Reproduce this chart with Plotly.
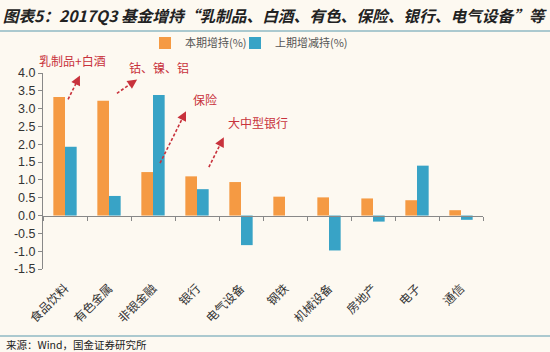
import math
import plotly.graph_objects as go

categories = ["食品饮料", "有色金属", "非银金融", "银行", "电气设备", "钢铁", "机械设备", "房地产", "电子", "通信"]
current = [3.33, 3.22, 1.22, 1.10, 0.94, 0.53, 0.51, 0.48, 0.43, 0.15]
previous = [1.93, 0.55, 3.38, 0.74, -0.83, 0.0, -0.98, -0.17, 1.40, -0.12]
series_names = ["本期增持(%)", "上期增减持(%)"]
ytick_vals = [-1.5, -1.0, -0.5, 0.0, 0.5, 1.0, 1.5, 2.0, 2.5, 3.0, 3.5, 4.0]
title_text = "图表5：2017Q3 基金增持“乳制品、白酒、有色、保险、银行、电气设备”等"
source_text = "来源：Wind，国金证券研究所"

# callouts: text, text pos (cat index, value), arrow tail, arrow head
callouts = [
    ("乳制品+白酒", (0.16, 4.36), (0.07, 3.26), (0.34, 3.93)),
    ("钴、镍、铝", (2.14, 4.16), (1.18, 3.43), (1.64, 3.82)),
    ("保险", (3.18, 3.26), (2.16, 1.47), (2.75, 2.93)),
    ("大中型银行", (4.39, 2.62), (3.27, 1.36), (3.61, 2.20)),
]

ORANGE = "#F59A43"
BLUE = "#38A3C6"
RED = "#C8323C"
BG = "#FDF9F1"
CJK = "Noto Sans CJK SC"

L, R, T, B = 43, 67, 73, 83
W, H = 550, 352
pw, ph = W - L - R, H - T - B
YMIN, YMAX = -1.5, 4.0
NCAT = len(categories)
HEAD_PX = 9


def px_x(px):
    return (px - L) / pw


def px_y(py):
    return (H - B - py) / ph


def cat_paper(i):
    return (i + 0.5) / NCAT


def val_paper(v):
    return (v - YMIN) / (YMAX - YMIN)


fig = go.Figure()
fig.add_trace(go.Bar(x=categories, y=current, name=series_names[0], marker_color=ORANGE,
                     marker_line_width=0, legend="legend"))
fig.add_trace(go.Bar(x=categories, y=previous, name=series_names[1], marker_color=BLUE,
                     marker_line_width=0, legend="legend2"))

shapes = []
annotations = []
for text, (tx, ty), (ax0, ay0), (hx, hy) in callouts:
    annotations.append(dict(x=cat_paper(tx), y=val_paper(ty), xref="paper", yref="paper", text=text,
                            xanchor="center", yanchor="middle",
                            showarrow=False, font=dict(family=CJK, size=12, color=RED)))
    sx, sy = cat_paper(ax0), val_paper(ay0)
    ex, ey = cat_paper(hx), val_paper(hy)
    dx_px = (ex - sx) * pw
    dy_px = (ey - sy) * ph
    length = math.hypot(dx_px, dy_px)
    ux, uy = dx_px / length, dy_px / length
    # dashed shaft, stopping under the arrowhead
    stop = length - HEAD_PX * 0.6
    shapes.append(dict(type="line", xref="paper", yref="paper", x0=sx, y0=sy,
                       x1=sx + ux * stop / pw, y1=sy + uy * stop / ph,
                       line=dict(color=RED, width=1.6, dash="3px,2px")))
    annotations.append(dict(x=ex, y=ey, xref="paper", yref="paper",
                            ax=-ux * HEAD_PX, ay=uy * HEAD_PX,
                            text="", showarrow=True, arrowhead=2, arrowsize=1.2,
                            arrowwidth=1.6, arrowcolor=RED, standoff=0, startstandoff=0))

# header / footer rules
shapes.append(dict(type="line", xref="paper", yref="paper", x0=px_x(0), x1=px_x(550),
                   y0=px_y(31), y1=px_y(31), line=dict(color="#5B9AAE", width=1.2)))
shapes.append(dict(type="line", xref="paper", yref="paper", x0=px_x(0), x1=px_x(550),
                   y0=px_y(336), y1=px_y(336), line=dict(color="#5B9AAE", width=1.2)))
annotations.append(dict(x=px_x(4), y=px_y(344), xref="paper", yref="paper", xanchor="left",
                        yanchor="middle", text=source_text, showarrow=False,
                        font=dict(family=CJK, size=10.5, color="#222")))

legend_common = dict(orientation="h", yanchor="middle", xanchor="left",
                     font=dict(family=CJK, size=11, color="#555"), bgcolor="rgba(0,0,0,0)",
                     itemwidth=30)

fig.update_layout(
    width=W, height=H,
    margin=dict(l=L, r=R, t=T, b=B),
    paper_bgcolor=BG, plot_bgcolor=BG,
    barmode="group", bargap=0.47, bargroupgap=0,
    title=dict(text=title_text, x=0.005, xanchor="left", xref="container",
               y=1 - 17 / H, yanchor="middle", yref="container",
               font=dict(family=CJK, size=15.7, color="#222", weight="bold", style="italic")),
    legend=dict(x=px_x(145), y=px_y(43), **legend_common),
    legend2=dict(x=px_x(235), y=px_y(43), **legend_common),
    xaxis=dict(type="category", categoryorder="array", categoryarray=categories,
               range=[-0.5, 9.5], tickangle=-45, showline=False, ticks="",
               ticklabelstandoff=9,
               tickfont=dict(family=CJK, size=12, color="#333"), showgrid=False),
    xaxis2=dict(overlaying="x", anchor="free", position=val_paper(0), range=[-0.5, 9.5],
                tickmode="array", tickvals=[k - 0.5 for k in range(NCAT + 1)], ticks="outside",
                ticklen=4, tickcolor="#888", showticklabels=False, showline=True,
                linecolor="#888", linewidth=1, showgrid=False, zeroline=False),
    yaxis=dict(range=[YMIN, YMAX], tickmode="array", tickvals=ytick_vals,
               ticktext=[f"{v:.1f}" for v in ytick_vals], ticks="outside", ticklen=4,
               tickcolor="#888", showline=True, linecolor="#888", linewidth=1,
               showgrid=False, zeroline=False,
               tickfont=dict(family="Liberation Sans, Arial", size=12.5, color="#333")),
    shapes=shapes, annotations=annotations,
)
fig.add_trace(go.Scatter(x=[0], y=[0], xaxis="x2", yaxis="y", mode="markers",
                         marker=dict(opacity=0), showlegend=False, hoverinfo="skip"))

fig.write_html("out.html")
